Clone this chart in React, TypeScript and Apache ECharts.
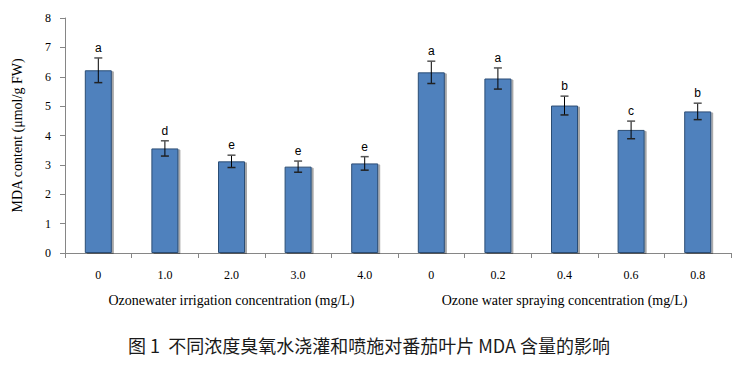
import React, { useEffect, useRef } from "react";
import * as echarts from "echarts";

const categories = ["0", "1.0", "2.0", "3.0", "4.0", "0", "0.2", "0.4", "0.6", "0.8"];
const irrigationValues = [6.22, 3.56, 3.12, 2.94, 3.05];
const irrigationErrors = [0.42, 0.26, 0.21, 0.19, 0.23];
const sprayingValues = [6.15, 5.94, 5.02, 4.19, 4.82];
const sprayingErrors = [0.38, 0.36, 0.32, 0.3, 0.28];
const letters = ["a", "d", "e", "e", "e", "a", "a", "b", "c", "b"];
const groupNames = [
  "Ozonewater irrigation concentration (mg/L)",
  "Ozone water spraying concentration (mg/L)",
];
const yTitle = "MDA content (μmol/g FW)";
const caption = "图 1  不同浓度臭氧水浇灌和喷施对番茄叶片 MDA 含量的影响";

const SERIF = "'Liberation Serif', 'DejaVu Serif', serif";
const AXIS_GRAY = "#868686";

export default function App() {
  const ref = useRef<HTMLDivElement>(null);

  useEffect(() => {
    if (!ref.current) return;
    const chart = echarts.init(ref.current, undefined, { renderer: "svg" });
    const values = [...irrigationValues, ...sprayingValues];
    const errors = [...irrigationErrors, ...sprayingErrors];

    chart.setOption({
      animation: false,
      backgroundColor: "#ffffff",
      title: {
        text: caption,
        left: "center",
        top: 331,
        textStyle: {
          fontFamily: "'Noto Sans CJK SC', sans-serif",
          fontSize: 18,
          fontWeight: "normal",
          color: "#1a1a1a",
        },
      },
      grid: { left: 65, right: 7, top: 18, bottom: 114 },
      xAxis: [
        {
          type: "category",
          data: categories,
          axisLine: { lineStyle: { color: AXIS_GRAY, width: 1 } },
          axisTick: { show: true, length: 5, lineStyle: { color: AXIS_GRAY } },
          axisLabel: {
            margin: 16,
            fontFamily: SERIF,
            fontSize: 12,
            color: "#000",
          },
        },
        {
          type: "category",
          data: groupNames,
          position: "bottom",
          offset: 32,
          axisLine: { show: false },
          axisTick: { show: false },
          axisLabel: {
            margin: 8,
            fontFamily: SERIF,
            fontSize: 14,
            color: "#000",
          },
        },
      ],
      yAxis: {
        type: "value",
        min: 0,
        max: 8,
        interval: 1,
        name: yTitle,
        nameLocation: "middle",
        nameGap: 41,
        nameTextStyle: { fontFamily: SERIF, fontSize: 14, color: "#000" },
        axisLine: { show: true, lineStyle: { color: AXIS_GRAY, width: 1 } },
        axisTick: { show: true, length: 5, lineStyle: { color: AXIS_GRAY } },
        axisLabel: { margin: 14, fontFamily: SERIF, fontSize: 12, color: "#000" },
        splitLine: { show: false },
      },
      series: [
        {
          type: "bar",
          data: values,
          barWidth: 27,
          itemStyle: {
            color: "#4F81BD",
            borderColor: "#2C4D75",
            borderWidth: 1,
            shadowColor: "rgba(0,0,0,0.35)",
            shadowOffsetX: 2,
            shadowOffsetY: 1,
            shadowBlur: 1,
          },
        },
        {
          type: "custom",
          data: values.map((v, i) => [i, v, errors[i]]),
          encode: { x: 0, y: 1 },
          z: 5,
          renderItem: (params: any, api: any) => {
            const i = api.value(0);
            const v = api.value(1);
            const e = api.value(2);
            const top = api.coord([i, v + e]);
            const bot = api.coord([i, v - e]);
            const x = top[0];
            const hw = 4;
            return {
              type: "group",
              children: [
                {
                  type: "line",
                  shape: { x1: x, y1: top[1], x2: x, y2: bot[1] },
                  style: { stroke: "#000", lineWidth: 1 },
                },
                {
                  type: "line",
                  shape: { x1: x - hw, y1: top[1], x2: x + hw, y2: top[1] },
                  style: { stroke: "#555", lineWidth: 1.5 },
                },
                {
                  type: "line",
                  shape: { x1: x - hw, y1: bot[1], x2: x + hw, y2: bot[1] },
                  style: { stroke: "#222", lineWidth: 1.5 },
                },
                {
                  type: "text",
                  style: {
                    text: letters[i],
                    x: x,
                    y: top[1] - 4,
                    align: "center",
                    verticalAlign: "bottom",
                    font: "12px 'Liberation Sans', Arial, sans-serif",
                    fill: "#000",
                  },
                },
              ],
            };
          },
        },
      ],
    });

    return () => chart.dispose();
  }, []);

  return (
    <div
      ref={ref}
      style={{ position: "fixed", left: 0, top: 0, width: 738, height: 367 }}
    />
  );
}
